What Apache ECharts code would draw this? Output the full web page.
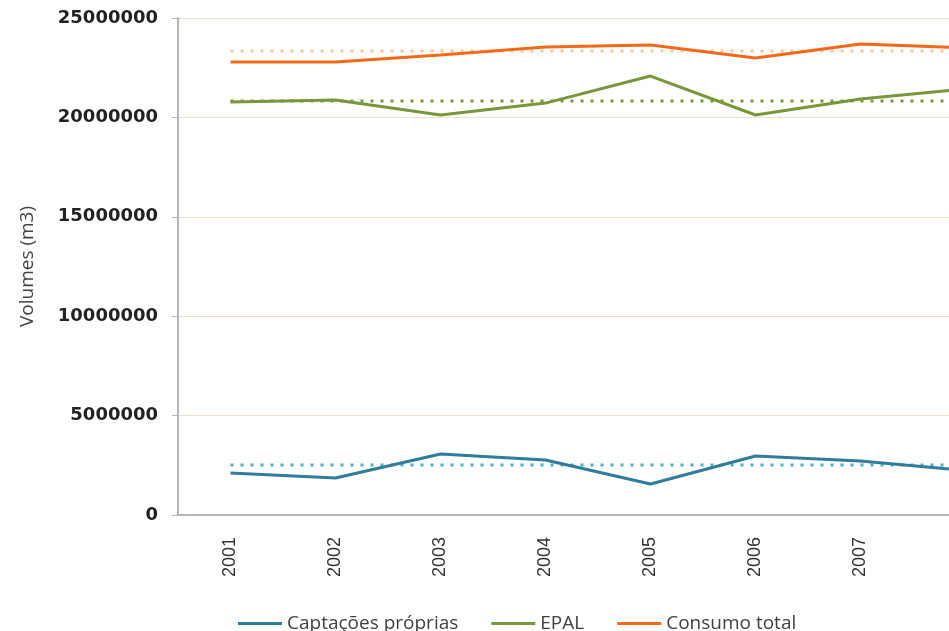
<!DOCTYPE html>
<html>
<head>
<meta charset="utf-8">
<script src="https://cdn.jsdelivr.net/npm/echarts@6/dist/echarts.min.js"></script>
<style>
  html, body { margin: 0; padding: 0; background: #ffffff; }
  #chart { width: 949px; height: 631px; }
</style>
</head>
<body>
<div id="chart"></div>
<script>
// Years shown on the category axis
const years = ['2001', '2002', '2003', '2004', '2005', '2006', '2007', '2008'];

// Annual volumes (m3)
const captacoesProprias = [2110000, 1860000, 3070000, 2770000, 1560000, 2970000, 2720000, 2240000];
const epal = [20770000, 20880000, 20120000, 20720000, 22080000, 20120000, 20930000, 21430000];
const consumoTotal = [22790000, 22790000, 23140000, 23540000, 23640000, 22990000, 23690000, 23500000];

// Period averages, drawn as dotted reference lines
const mediaCaptacoes = 2520000;
const mediaEpal = 20830000;
const mediaConsumo = 23340000;

// Value-axis tick settings
const yMin = 0;
const yMax = 25000000;
const yStep = 5000000;

const flat = v => years.map(() => v);

const chart = echarts.init(document.getElementById('chart'));

function solid(name, data, color) {
  return {
    name, type: 'line', data, symbol: 'none', z: 3,
    lineStyle: { color, width: 3 },
    itemStyle: { color }
  };
}
function dotted(name, value, color) {
  return {
    name, type: 'line', data: flat(value), symbol: 'none', z: 2,
    silent: true,
    lineStyle: { color, width: 3, type: [3, 7] },
    itemStyle: { color }
  };
}

chart.setOption({
  animation: false,
  grid: {
    left: 178, top: 18, width: 840, height: 497,
    containLabel: false,
    outerBoundsMode: 'none'
  },
  legend: {
    data: ['Captações próprias', 'EPAL', 'Consumo total'],
    left: 233, top: 609,
    itemWidth: 44, itemHeight: 3, itemGap: 33,
    icon: 'rect',
    textStyle: { fontFamily: 'Open Sans', fontSize: 19, color: '#404040' }
  },
  xAxis: {
    type: 'category',
    data: years,
    boundaryGap: true,
    axisLine: { lineStyle: { color: '#b4b4bc', width: 2 } },
    axisTick: { show: false },
    axisLabel: {
      rotate: 90, margin: 22,
      fontFamily: 'Liberation Sans', fontSize: 18, color: '#333333'
    },
    splitLine: { show: false }
  },
  yAxis: {
    type: 'value',
    min: yMin, max: yMax, interval: yStep,
    name: 'Volumes (m3)',
    nameLocation: 'middle',
    nameGap: 141,
    nameTextStyle: { fontFamily: 'Open Sans', fontSize: 19, color: '#444444' },
    axisLine: { show: true, lineStyle: { color: '#b4b4bc', width: 2 } },
    axisTick: { show: true, length: 6, lineStyle: { color: '#b4b4bc', width: 1 } },
    axisLabel: {
      margin: 20,
      fontFamily: 'DejaVu Sans', fontWeight: 'bold', fontSize: 18, color: '#222222',
      formatter: v => String(v)
    },
    splitLine: { lineStyle: { color: '#f2dfcb', width: 1 } }
  },
  series: [
    dotted('Média consumo total', mediaConsumo, '#fbc49c'),
    dotted('Média EPAL', mediaEpal, '#77973a'),
    dotted('Média captações próprias', mediaCaptacoes, '#4bb0cc'),
    solid('Captações próprias', captacoesProprias, '#2f7c9b'),
    solid('EPAL', epal, '#77973a'),
    solid('Consumo total', consumoTotal, '#f26a18')
  ]
});
</script>
</body>
</html>
